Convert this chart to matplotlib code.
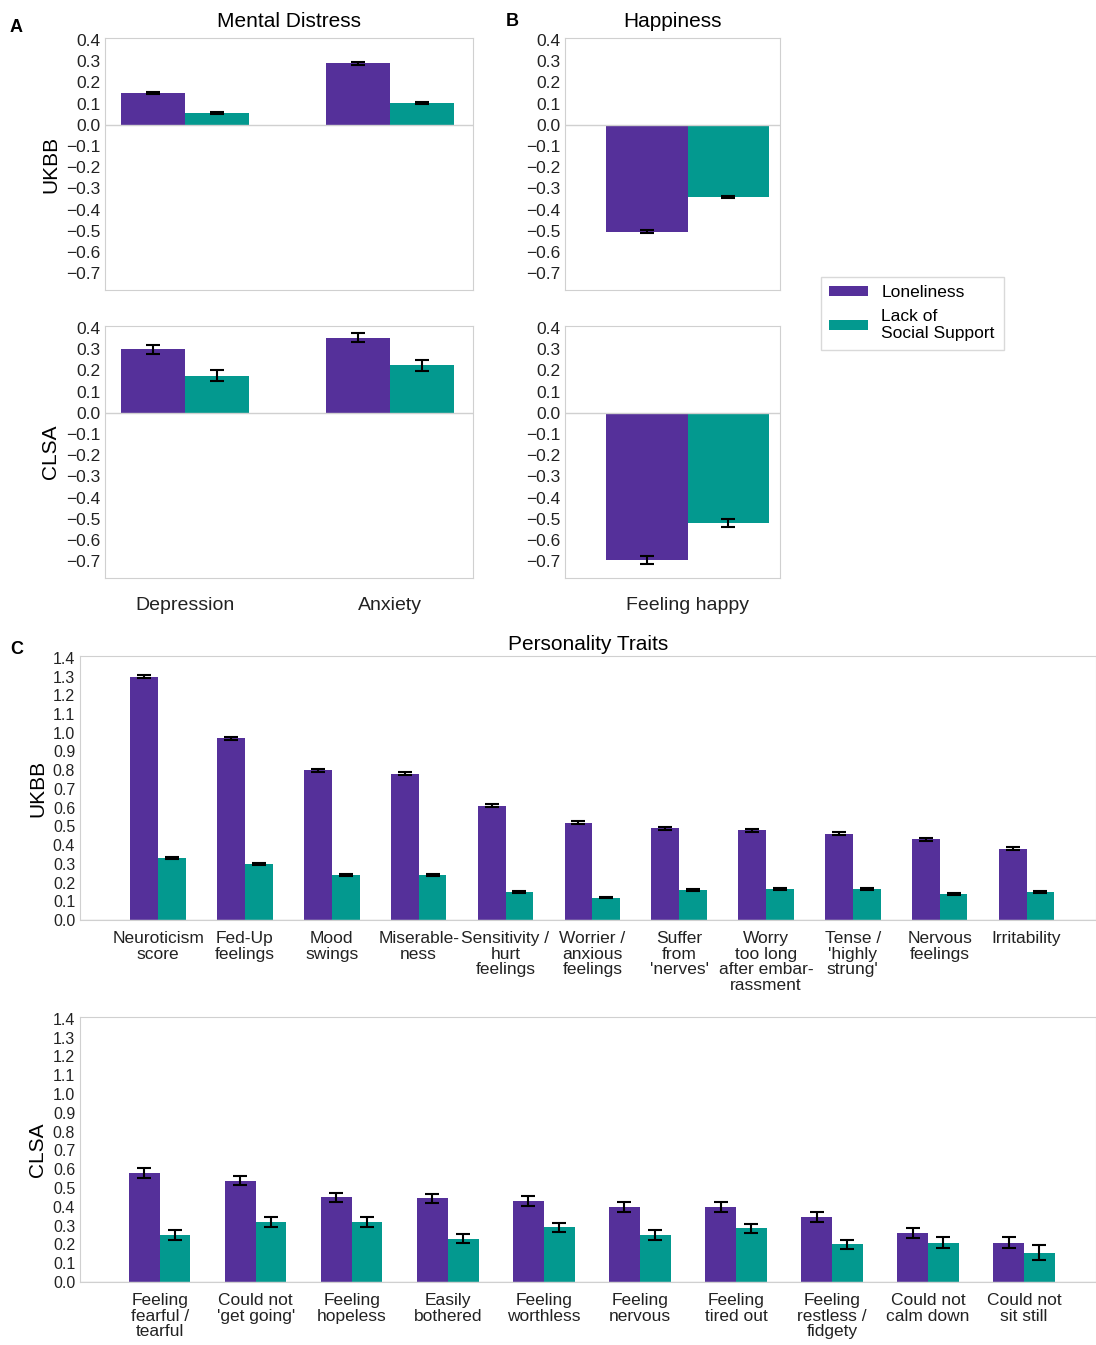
import numpy as np
import matplotlib.pyplot as plt

plt.rcParams['font.family'] = ['Liberation Sans', 'DejaVu Sans']

PURPLE = '#55309a'
TEAL = '#03998f'
GRAY = '#d0d0d0'

# Panel A: Mental distress
md_labels = ['Depression', 'Anxiety']
md_ukbb_lon = [0.15, 0.29]
md_ukbb_sup = [0.055, 0.105]
md_ukbb_lon_err = [0.006, 0.007]
md_ukbb_sup_err = [0.005, 0.005]
md_clsa_lon = [0.30, 0.355]
md_clsa_sup = [0.175, 0.225]
md_clsa_lon_err = [0.022, 0.022]
md_clsa_sup_err = [0.025, 0.026]

# Panel B: Happiness
hp_labels = ['Feeling happy']
hp_ukbb_lon = [-0.505]
hp_ukbb_sup = [-0.34]
hp_ukbb_lon_err = [0.008]
hp_ukbb_sup_err = [0.006]
hp_clsa_lon = [-0.695]
hp_clsa_sup = [-0.52]
hp_clsa_lon_err = [0.02]
hp_clsa_sup_err = [0.02]

# Panel C: personality traits
pt_ukbb_labels = ['Neuroticism\nscore', 'Fed-Up\nfeelings', 'Mood\nswings', 'Miserable-\nness',
                  'Sensitivity /\nhurt\nfeelings', 'Worrier /\nanxious\nfeelings', 'Suffer\nfrom\n\'nerves\'',
                  'Worry\ntoo long\nafter embar-\nrassment', 'Tense /\n\'highly\nstrung\'', 'Nervous\nfeelings',
                  'Irritability']
pt_ukbb_lon = [1.30, 0.97, 0.80, 0.78, 0.61, 0.52, 0.49, 0.48, 0.46, 0.43, 0.38]
pt_ukbb_sup = [0.33, 0.30, 0.24, 0.24, 0.15, 0.12, 0.16, 0.165, 0.165, 0.14, 0.15]
pt_ukbb_lon_err = [0.01, 0.01, 0.008, 0.008, 0.008, 0.009, 0.008, 0.008, 0.008, 0.008, 0.008]
pt_ukbb_sup_err = [0.006, 0.006, 0.005, 0.005, 0.005, 0.005, 0.005, 0.005, 0.005, 0.005, 0.005]

pt_clsa_labels = ['Feeling\nfearful /\ntearful', 'Could not\n\'get going\'', 'Feeling\nhopeless',
                  'Easily\nbothered', 'Feeling\nworthless', 'Feeling\nnervous', 'Feeling\ntired out',
                  'Feeling\nrestless /\nfidgety', 'Could not\ncalm down', 'Could not\nsit still']
pt_clsa_lon = [0.58, 0.54, 0.45, 0.445, 0.43, 0.40, 0.40, 0.345, 0.26, 0.21]
pt_clsa_sup = [0.25, 0.32, 0.32, 0.23, 0.29, 0.25, 0.285, 0.20, 0.21, 0.155]
pt_clsa_lon_err = [0.025, 0.025, 0.025, 0.025, 0.025, 0.025, 0.025, 0.025, 0.025, 0.03]
pt_clsa_sup_err = [0.025, 0.025, 0.025, 0.025, 0.025, 0.025, 0.025, 0.025, 0.03, 0.04]


def style(ax):
    for s in ax.spines.values():
        s.set_color(GRAY)
    ax.tick_params(length=0, labelsize=12.5, colors='#222222')


def bars(ax, lon, sup, lon_err, sup_err, w):
    x = np.arange(len(lon))
    ek = dict(ecolor='black', capsize=5, elinewidth=1.5, capthick=1.5)
    ax.bar(x - w / 2, lon, w, color=PURPLE, yerr=lon_err, error_kw=ek, label='Loneliness')
    ax.bar(x + w / 2, sup, w, color=TEAL, yerr=sup_err, error_kw=ek, label='Lack of\nSocial Support')
    ax.axhline(0, color=GRAY, lw=1)
    return x


fig = plt.figure(figsize=(10.96, 13.45), dpi=100)
W, H = 1096, 1345


def add_ax(x0, y0, x1, y1):
    return fig.add_axes([x0 / W, 1 - y1 / H, (x1 - x0) / W, (y1 - y0) / H])


yt = np.round(np.arange(-0.7, 0.41, 0.1), 1)
yl = ['0.0' if v == 0 else f'{v:.1f}'.replace('-', '\u2212') for v in yt]

# Panel A
for i, (y0, y1, lon, sup, le, se) in enumerate([
        (38, 290, md_ukbb_lon, md_ukbb_sup, md_ukbb_lon_err, md_ukbb_sup_err),
        (326, 578, md_clsa_lon, md_clsa_sup, md_clsa_lon_err, md_clsa_sup_err)]):
    ax = add_ax(105, y0, 473, y1)
    style(ax)
    x = bars(ax, lon, sup, le, se, 0.31)
    ax.set_xlim(-0.39, 1.405)
    ax.set_ylim(-0.78, 0.41)
    ax.set_yticks(yt)
    ax.set_yticklabels(yl)
    ax.set_ylabel(['UKBB', 'CLSA'][i], fontsize=15)
    ax.set_xticks(x)
    if i == 0:
        ax.set_xticklabels([])
        ax.set_title('Mental Distress', fontsize=15, pad=8)
    else:
        ax.set_xticklabels(md_labels, fontsize=14)
        ax.tick_params(axis='x', pad=14)

# Panel B
for i, (y0, y1, lon, sup, le, se) in enumerate([
        (38, 290, hp_ukbb_lon, hp_ukbb_sup, hp_ukbb_lon_err, hp_ukbb_sup_err),
        (326, 578, hp_clsa_lon, hp_clsa_sup, hp_clsa_lon_err, hp_clsa_sup_err)]):
    ax = add_ax(565, y0, 780, y1)
    style(ax)
    x = bars(ax, lon, sup, le, se, 0.38)
    ax.set_xlim(-0.57, 0.43)
    ax.set_ylim(-0.78, 0.41)
    ax.set_yticks(yt)
    ax.set_yticklabels(yl)
    ax.set_xticks(x)
    if i == 0:
        ax.set_xticklabels([])
        ax.set_title('Happiness', fontsize=15, pad=8)
    else:
        ax.set_xticklabels(hp_labels, fontsize=14)
        ax.tick_params(axis='x', pad=14)
        handles, labels = ax.get_legend_handles_labels()
        fig.legend(handles, labels, loc='upper left', bbox_to_anchor=(812 / W, 1 - 268 / H),
                   fontsize=12.5, edgecolor=GRAY, fancybox=False, handlelength=2.2,
                   handleheight=0.5, borderpad=0.5)

# Panel C
yc = np.round(np.arange(0, 1.41, 0.1), 1)
for i, (y0, y1, labels, lon, sup, le, se, xl) in enumerate([
        (656, 920, pt_ukbb_labels, pt_ukbb_lon, pt_ukbb_sup, pt_ukbb_lon_err, pt_ukbb_sup_err, (-0.9, 10.8)),
        (1017, 1282, pt_clsa_labels, pt_clsa_lon, pt_clsa_sup, pt_clsa_lon_err, pt_clsa_sup_err, (-0.83, 9.75))]):
    ax = add_ax(80, y0, 1096, y1)
    style(ax)
    ax.tick_params(labelsize=11.5)
    x = bars(ax, lon, sup, le, se, 0.32)
    ax.set_xlim(*xl)
    ax.set_ylim(0, 1.41)
    ax.set_yticks(yc)
    ax.set_yticklabels([f'{v:.1f}' for v in yc])
    ax.set_ylabel(['UKBB', 'CLSA'][i], fontsize=15)
    ax.set_xticks(x)
    ax.set_xticklabels(labels, fontsize=12.5, linespacing=1.05)
    ax.tick_params(axis='x', pad=8)
    if i == 0:
        ax.set_title('Personality Traits', fontsize=15, pad=4)

for lbl, x, y in [('A', 10, 28), ('B', 506, 22), ('C', 10, 650)]:
    fig.text(x / W, 1 - y / H, lbl, fontsize=13, fontweight='bold', va='center')

fig.savefig('out.png', dpi=100)
